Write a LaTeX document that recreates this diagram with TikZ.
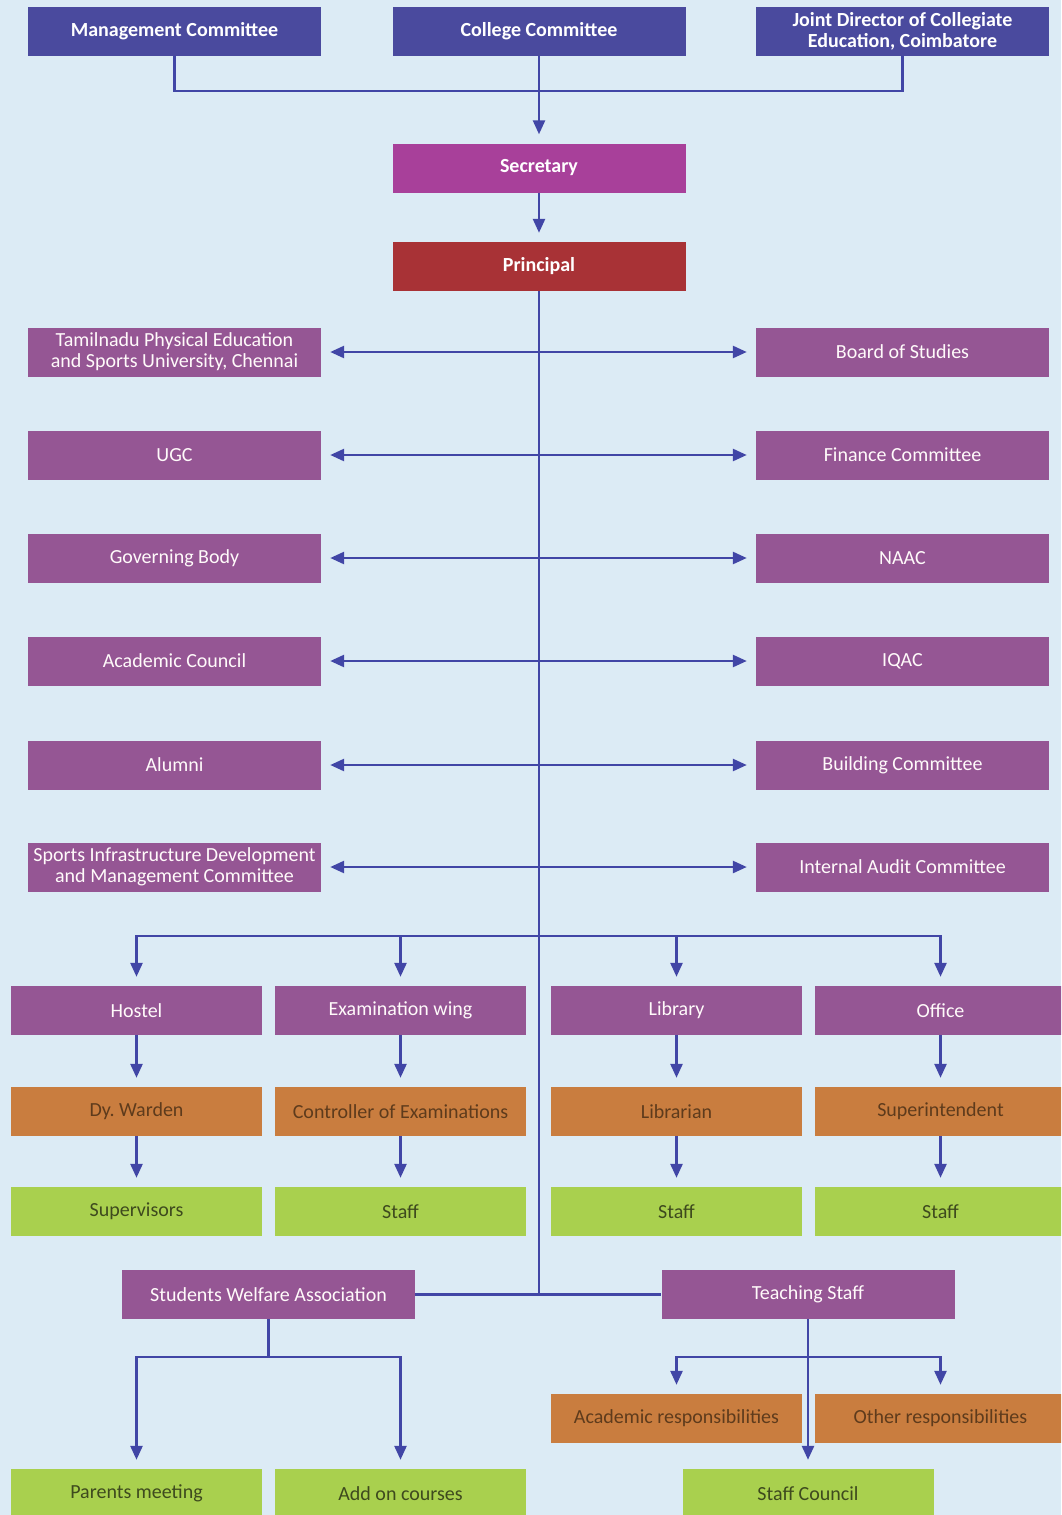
\documentclass[tikz,border=0pt]{standalone}
\usepackage{fontspec}
\setmainfont{Carlito}
\usepackage{tikz}
\usetikzlibrary{arrows.meta}
\usetikzlibrary{positioning}
\definecolor{bgblue}{HTML}{DCEBF5}
\definecolor{topblue}{HTML}{4A4A9E}
\definecolor{secmag}{HTML}{A8409A}
\definecolor{prinred}{HTML}{A83236}
\definecolor{unitpurple}{HTML}{955694}
\definecolor{headorange}{HTML}{C97D3F}
\definecolor{staffgreen}{HTML}{A9D04E}
\definecolor{linkblue}{HTML}{4146A6}
\definecolor{orangetext}{HTML}{5E3B1C}
\definecolor{greentext}{HTML}{3E4A1E}
\tikzset{box/.style={rectangle, inner sep=0pt, minimum width=293pt, minimum height=49pt, align=center, font=\fontsize{20}{21}\selectfont}}
\tikzset{topbox/.style={box, fill=topblue, text=white, font=\fontsize{20}{21}\selectfont\bfseries}}
\tikzset{unit/.style={box, fill=unitpurple, text=white!92!pink}}
\tikzset{small/.style={minimum width=251pt}}
\tikzset{headbox/.style={box, small, fill=headorange, text=orangetext}}
\tikzset{staffbox/.style={box, small, fill=staffgreen, text=greentext}}
\tikzset{link/.style={draw=linkblue, line width=2.6pt}}
\tikzset{arr/.style={link, ->, shorten >=9pt}}
\begin{document}
\begin{tikzpicture}[x=1pt,y=-1pt,>={Triangle[length=14pt,width=12pt]}]
\useasboundingbox (0,0) rectangle (1061,1515);
\clip (0,0) rectangle (1061,1515);
\fill[bgblue] (0,0) rectangle (1061,1515);

% top of the chart
\node[topbox] (mgmt)    at (174.5,31.5) {Management Committee};
\node[topbox] (college) at (539,31.5)   {College Committee};
\node[topbox] (jd)      at (902.5,31.5) {Joint Director of Collegiate\\Education, Coimbatore};
\node[topbox, fill=secmag]  (sec)  at (539,168)   {Secretary};
\node[topbox, fill=prinred] (prin) at (539,266.5) {Principal};

% bodies on both sides of the principal
\node[unit] (L1) at (174.5,352) {Tamilnadu Physical Education\\and Sports University, Chennai};
\node[unit] (L2) at (174.5,455) {UGC};
\node[unit] (L3) at (174.5,558) {Governing Body};
\node[unit] (L4) at (174.5,661) {Academic Council};
\node[unit] (L5) at (174.5,765) {Alumni};
\node[unit] (L6) at (174.5,867) {Sports Infrastructure Development\\and Management Committee};

\node[unit] (R1) at (902.5,352) {Board of Studies};
\node[unit] (R2) at (902.5,455) {Finance Committee};
\node[unit] (R3) at (902.5,558) {NAAC};
\node[unit] (R4) at (902.5,661) {IQAC};
\node[unit] (R5) at (902.5,765) {Building Committee};
\node[unit] (R6) at (902.5,867) {Internal Audit Committee};

% wings
\node[unit, small] (hostel) at (136.5,1010.5) {Hostel};
\node[unit, small] (exam)   at (400.5,1010.5) {Examination wing};
\node[unit, small] (lib)    at (676.5,1010.5) {Library};
\node[unit, small] (office) at (940.5,1010.5) {Office};

\node[headbox] (warden)    at (136.5,1111.5) {Dy.\ Warden};
\node[headbox] (coe)       at (400.5,1111.5) {Controller of Examinations};
\node[headbox] (librarian) at (676.5,1111.5) {Librarian};
\node[headbox] (supdt)     at (940.5,1111.5) {Superintendent};

\node[staffbox] (sup)    at (136.5,1211.5) {Supervisors};
\node[staffbox] (staffA) at (400.5,1211.5) {Staff};
\node[staffbox] (staffB) at (676.5,1211.5) {Staff};
\node[staffbox] (staffC) at (940.5,1211.5) {Staff};

% bottom of the chart
\node[unit] (swa)   at (268.5,1294.5) {Students Welfare Association};
\node[unit] (teach) at (808,1294.5)   {Teaching Staff};

\node[headbox] (acad)  at (676.5,1418.5) {Academic responsibilities};
\node[headbox] (other) at (940.5,1418.5) {Other responsibilities};

\node[staffbox] (parents) at (136.5,1493.5) {Parents meeting};
\node[staffbox] (addon)   at (400.5,1493.5) {Add on courses};
\node[staffbox] (council) at (808,1493.5)   {Staff Council};

\coordinate (top)   at (539,91);
\coordinate (split) at (539,936);
\coordinate (bus)   at (539,1294.5);
\coordinate (swaj)  at (268.5,1357);
\coordinate (teachj) at (808,1357);

\draw[link] (mgmt.south) |- (top) -| (jd.south);
\draw[arr] (college) -- (sec);
\draw[arr] (sec) -- (prin);
\draw[link] (prin.south) -- (bus);

\foreach \i in {1,...,6}
  \draw[arr,<->,shorten <=9pt] (L\i.east) -- (R\i.west);

\foreach \w/\h/\s in {hostel/warden/sup, exam/coe/staffA, lib/librarian/staffB, office/supdt/staffC}{
  \draw[arr] (split) -| (\w.north);
  \draw[arr] (\w) -- (\h);
  \draw[arr] (\h) -- (\s);
}

\draw[link] (swa.east) -- (teach.west);
\draw[link] (swa.south) -- (swaj);
\draw[arr] (swaj) -| (parents.north);
\draw[arr] (swaj) -| (addon.north);
\draw[arr] (teach.south) -- (council.north);
\draw[arr] (teachj) -| (acad.north);
\draw[arr] (teachj) -| (other.north);
\end{tikzpicture}
\end{document}
